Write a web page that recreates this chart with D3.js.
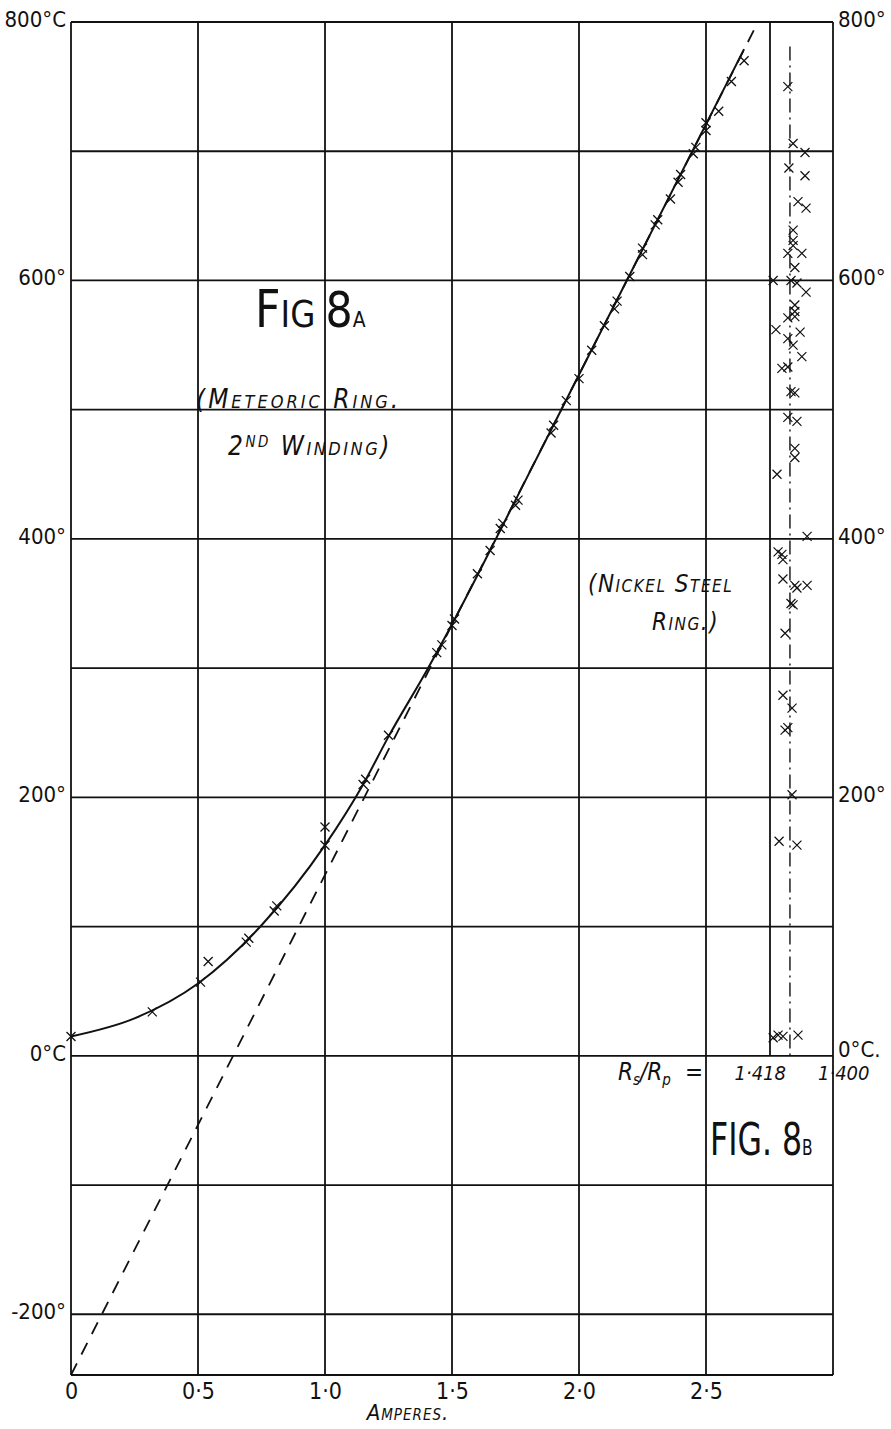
<!DOCTYPE html>
<html>
<head>
<meta charset="utf-8">
<script src="https://cdn.jsdelivr.net/npm/d3@7"></script>
<style>
body { margin: 0; background: #fff; }
text { font-family: "Liberation Sans Narrow", "DejaVu Sans Condensed", "Liberation Sans", sans-serif; fill: #111; }
.note { font-style: italic; font-variant: small-caps; }
</style>
</head>
<body>
<script>

// Fig 8A - meteoric ring, 2nd winding (amperes, deg C)
var ampsObs = [0, 0.32, 0.51, 0.54, 0.69, 0.70, 0.80, 0.81, 1.0, 1.0, 1.15, 1.16, 1.25, 1.44, 1.46,
    1.50, 1.51, 1.60, 1.65, 1.69, 1.70, 1.75, 1.76, 1.89, 1.90, 1.95, 2.00, 2.05, 2.10, 2.14, 2.15,
    2.20, 2.25, 2.25, 2.30, 2.31, 2.36, 2.39, 2.40, 2.45, 2.46, 2.50, 2.50, 2.55, 2.60, 2.65];
var tempObs = [15, 34, 57, 73, 88, 91, 112, 116, 163, 177, 210, 214, 248, 312, 318,
    333, 338, 373, 391, 408, 412, 426, 430, 482, 488, 507, 524, 546, 565, 578, 584,
    603, 620, 625, 643, 647, 663, 676, 682, 698, 703, 716, 722, 731, 754, 770];

// drawn curve through them
var curveAmps = [0, 0.25, 0.5, 0.75, 1.0, 1.15, 1.25, 1.4, 1.5, 1.75, 2.0, 2.65];
var curveTemps = [15, 29, 56, 101, 163, 210, 247, 298, 334, 430, 527, 779];

// dashed straight line
var dashAmps = [0, 2.705];
var dashTemps = [-247, 800];

// Fig 8B - nickel steel ring (Rs/Rp, deg C)
var ratioObs = [1.4171, 1.4157, 1.4143, 1.4100, 1.4154, 1.4103, 1.4117,
    1.4143, 1.4117, 1.4137, 1.4129, 1.4137, 1.4120, 1.4114,
    1.4143, 1.4109, 1.4103, 1.4074, 1.4157, 1.4146, 1.4143, 1.4074,
    1.4160, 1.4109, 1.4109, 1.4129, 1.4103, 1.4120, 1.4109, 1.4146, 1.4129,
    1.4089, 1.4114, 1.4129, 1.4163, 1.4094, 1.4109, 1.4109, 1.4109, 1.4129,
    1.4077, 1.4171, 1.4120, 1.4103, 1.4109, 1.4129, 1.4089, 1.4114, 1.4114, 1.4114,
    1.4100, 1.4077, 1.4080, 1.4126, 1.4080, 1.4114, 1.4129];
var ratioTemp = [14, 16, 15, 16, 166, 163, 202,
    279, 269, 252, 254, 327, 350, 349,
    369, 364, 362, 364, 390, 388, 384, 402,
    450, 470, 463, 494, 491, 514, 513, 532, 533,
    541, 550, 555, 562, 560, 581, 576, 572, 571,
    591, 600, 600, 598, 610, 621, 621, 627, 631, 639,
    661, 656, 681, 687, 699, 706, 750];
var ratioSolid = 1.418;
var ratioMean = 1.4123;
var ratioMeanTop = 781;

// ticks
var xTicks = [0, 0.5, 1.0, 1.5, 2.0, 2.5];
var xTickLabels = ["0", "0·5", "1·0", "1·5", "2·0", "2·5"];
var xGrid = [0, 0.5, 1.0, 1.5, 2.0, 2.5, 3.0];
var yGrid = [-200, -100, 0, 100, 200, 300, 400, 500, 600, 700, 800];
var yTicks = [-200, 0, 200, 400, 600, 800];
var yLeftLabels = ["-200°", "0°C", "200°", "400°", "600°", "800°C"];
var yRightTicks = [0, 200, 400, 600, 800];
var yRightLabels = ["0°C.", "200°", "400°", "600°", "800°"];
var ratioTicks = [1.418, 1.400];
var ratioLabels = ["1·418", "1·400"];

var W = 891, H = 1429;
var MARGINS = {left: 71, right: 58, top: 22, bottom: 54};

var x = d3.scaleLinear().domain([0, 3]).range([MARGINS.left, W - MARGINS.right]);
var y = d3.scaleLinear().domain([-247, 800]).range([H - MARGINS.bottom, MARGINS.top]);
var r = d3.scaleLinear().domain([1.418, 1.400]).range([770, W - MARGINS.right]);

var svg = d3.select("body").append("svg")
    .attr("width", W)
    .attr("height", H);

// grid
svg.append("g").selectAll("line").data(xGrid).enter().append("line")
    .attr("x1", function (d) { return x(d); }).attr("x2", function (d) { return x(d); })
    .attr("y1", y(-247)).attr("y2", y(800))
    .attr("stroke", "#111").attr("stroke-width", 1.8);
svg.append("g").selectAll("line").data(yGrid.concat([-247])).enter().append("line")
    .attr("x1", x(0)).attr("x2", x(3))
    .attr("y1", function (d) { return y(d); }).attr("y2", function (d) { return y(d); })
    .attr("stroke", "#111").attr("stroke-width", 1.8);

// axes (labels only)
var xAxis = svg.append("g")
    .attr("transform", "translate(0," + y(-247) + ")")
    .call(d3.axisBottom(x).tickValues(xTicks).tickSize(0).tickPadding(8)
        .tickFormat(function (d, i) { return xTickLabels[i]; }));
var yAxisL = svg.append("g")
    .attr("transform", "translate(" + (x(0) - 5) + ",0)")
    .call(d3.axisLeft(y).tickValues(yTicks).tickSize(0).tickPadding(0)
        .tickFormat(function (d, i) { return yLeftLabels[i]; }));
var yAxisR = svg.append("g")
    .attr("transform", "translate(" + (x(3) + 5) + ",0)")
    .call(d3.axisRight(y).tickValues(yRightTicks).tickSize(0).tickPadding(0)
        .tickFormat(function (d, i) { return yRightLabels[i]; }));
[xAxis, yAxisL, yAxisR].forEach(function (g) {
    g.select(".domain").remove();
    g.selectAll("text").attr("font-family", null).attr("fill", "#111").style("font-size", "22px");
});
xAxis.selectAll("text").style("font-size", "23px");
yAxisL.selectAll("text").attr("dy", "0.2em");
yAxisR.selectAll("text").attr("dy", function (d) { return d === 0 ? "0.05em" : "0.2em"; });

// ratio axis labels for fig 8B
svg.append("g").selectAll("text").data(ratioTicks).enter().append("text")
    .attr("class", "note")
    .attr("x", function (d) { return r(d); })
    .attr("dx", function (d, i) { return i === 0 ? 16 : -15; })
    .attr("y", y(0) + 24)
    .attr("text-anchor", function (d, i) { return i === 0 ? "end" : "start"; })
    .style("font-size", "20px")
    .text(function (d, i) { return ratioLabels[i]; });

// dashed line
var line = d3.line().x(function (d) { return x(d[0]); }).y(function (d) { return y(d[1]); });
svg.append("path")
    .attr("d", line(d3.zip(dashAmps, dashTemps)))
    .attr("fill", "none").attr("stroke", "#111").attr("stroke-width", 1.8)
    .attr("stroke-dasharray", "13,10");

// smooth curve
var curve = d3.line().curve(d3.curveMonotoneX)
    .x(function (d) { return x(d[0]); }).y(function (d) { return y(d[1]); });
svg.append("path")
    .attr("d", curve(d3.zip(curveAmps, curveTemps)))
    .attr("fill", "none").attr("stroke", "#111").attr("stroke-width", 2);

// fig 8B lines
svg.append("line")
    .attr("x1", r(ratioSolid)).attr("x2", r(ratioSolid))
    .attr("y1", y(800)).attr("y2", y(0))
    .attr("stroke", "#111").attr("stroke-width", 1.8);
svg.append("line")
    .attr("x1", r(ratioMean)).attr("x2", r(ratioMean))
    .attr("y1", y(ratioMeanTop)).attr("y2", y(0))
    .attr("stroke", "#111").attr("stroke-width", 1.4)
    .attr("stroke-dasharray", "14,5,2,5");

// crosses
var cross = "M-4.5,-4.5L4.5,4.5M-4.5,4.5L4.5,-4.5";
svg.append("g").selectAll("path").data(d3.zip(ampsObs, tempObs)).enter().append("path")
    .attr("d", cross)
    .attr("transform", function (d) { return "translate(" + x(d[0]) + "," + y(d[1]) + ")"; })
    .attr("stroke", "#111").attr("stroke-width", 1.3).attr("fill", "none");
svg.append("g").selectAll("path").data(d3.zip(ratioObs, ratioTemp)).enter().append("path")
    .attr("d", cross)
    .attr("transform", function (d) { return "translate(" + r(d[0]) + "," + y(d[1]) + ")"; })
    .attr("stroke", "#111").attr("stroke-width", 1.2).attr("fill", "none");

// titles and notes
var t1 = svg.append("text").attr("transform", "translate(255,327) scale(0.95,1)");
t1.append("tspan").style("font-size", "52px").text("F");
t1.append("tspan").style("font-size", "38px").text("IG ");
t1.append("tspan").style("font-size", "50px").text("8");
t1.append("tspan").style("font-size", "22px").text("A");

var t2 = svg.append("text").attr("transform", "translate(710,1155) scale(0.78,1)");
t2.append("tspan").style("font-size", "45px").text("FIG. 8");
t2.append("tspan").style("font-size", "22px").text("B");

svg.append("text").attr("class", "note").attr("x", 196).attr("y", 408)
    .style("font-size", "26px").style("letter-spacing", "3px").text("(Meteoric Ring.");
var n2 = svg.append("text").attr("class", "note").attr("x", 228).attr("y", 455)
    .style("font-size", "26px").style("letter-spacing", "2.5px");
n2.append("tspan").text("2");
n2.append("tspan").attr("dy", -8).style("font-size", "15px").text("ND");
n2.append("tspan").attr("dy", 8).text(" Winding)");

svg.append("text").attr("class", "note").attr("x", 588).attr("y", 592)
    .style("font-size", "24px").style("letter-spacing", "1.5px").text("(Nickel Steel");
svg.append("text").attr("class", "note").attr("x", 652).attr("y", 630)
    .style("font-size", "24px").style("letter-spacing", "1.5px").text("Ring.)");

svg.append("text").attr("class", "note").attr("x", 408).attr("y", 1420)
    .attr("text-anchor", "middle").style("font-size", "22px").style("letter-spacing", "1px")
    .text("Amperes.");

var rr = svg.append("text").attr("class", "note").attr("x", 618).attr("y", 1080)
    .style("font-size", "24px").style("font-variant", "normal");
rr.append("tspan").text("R");
rr.append("tspan").attr("dy", 5).style("font-size", "15px").text("s");
rr.append("tspan").attr("dy", -5).text("/R");
rr.append("tspan").attr("dy", 5).style("font-size", "15px").text("p");
rr.append("tspan").attr("dy", -5).attr("dx", 14).text("=");

</script>
</body>
</html>
